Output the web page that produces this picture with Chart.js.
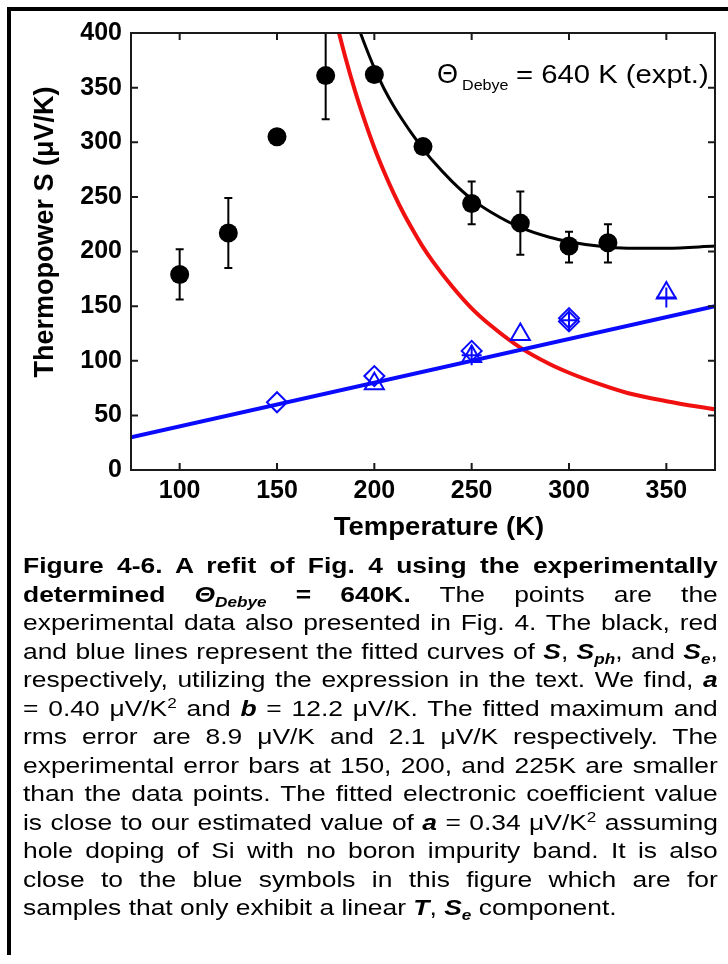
<!DOCTYPE html>
<html>
<head>
<meta charset="utf-8">
<script src="https://cdn.jsdelivr.net/npm/chart.js@4.4.1/dist/chart.umd.min.js"></script>
<style>
  html, body { margin: 0; padding: 0; background: #fff; }
  body { width: 728px; height: 964px; position: relative; overflow: hidden;
         font-family: "Liberation Sans", Arial, sans-serif; }
  #frame { position: absolute; left: 7px; top: 7px; width: 721px; height: 948px;
           border-top: 4px solid #000; border-left: 4px solid #000; box-sizing: border-box; }
  #plot { position: absolute; left: 0; top: 0; width: 728px; height: 556px; }
  #caption { position: absolute; left: 23px; top: 552px; width: 579px;
             transform: scaleX(1.2); transform-origin: 0 0;
             font-size: 22px; line-height: 28.5px; color: #000; }
  #caption div { text-align: justify; text-align-last: justify; }
  #caption div.last { text-align-last: left; }
  sub, sup { font-size: 65%; line-height: 0; }
</style>
</head>
<body>
<div id="frame"></div>
<div id="plot"><canvas id="chart"></canvas></div>
<div id="caption">
  <div><b>Figure 4-6. A refit of Fig. 4 using the experimentally</b></div>
  <div><b>determined <i>Θ<sub>Debye</sub></i> = 640K.</b> The points are the</div>
  <div>experimental data also presented in Fig. 4. The black, red</div>
  <div>and blue lines represent the fitted curves of <b><i>S</i></b>, <b><i>S<sub>ph</sub></i></b>, and <b><i>S<sub>e</sub></i></b>,</div>
  <div>respectively, utilizing the expression in the text. We find, <b><i>a</i></b></div>
  <div>= 0.40 μV/K<sup>2</sup> and <b><i>b</i></b> = 12.2 μV/K. The fitted maximum and</div>
  <div>rms error are 8.9 μV/K and 2.1 μV/K respectively. The</div>
  <div>experimental error bars at 150, 200, and 225K are smaller</div>
  <div>than the data points. The fitted electronic coefficient value</div>
  <div>is close to our estimated value of <b><i>a</i></b> = 0.34 μV/K<sup>2</sup> assuming</div>
  <div>hole doping of Si with no boron impurity band. It is also</div>
  <div>close to the blue symbols in this figure which are for</div>
  <div class="last">samples that only exhibit a linear <b><i>T</i></b>, <b><i>S<sub>e</sub></i></b> component.</div>
</div>
<script>
// measured thermopower (black circles) with error bars
const tempK = [100, 125, 150, 175, 200, 225, 250, 275, 300, 320];
const thermopower = [179, 217, 305, 361, 362, 296, 244, 226, 205, 208];
const errLow = [156, 185, null, 321, null, null, 225, 197, 190, 190];
const errHigh = [202, 249, null, 401, null, null, 264, 255, 218, 225];

// blue samples with linear S_e only
const diamondT = [150, 200, 250, 300, 300];
const diamondS = [62, 86, 109, 139, 136];
const triangleT = [200, 250, 275, 350];
const triangleS = [79, 104, 124, 162];
const crossT = [250, 300, 350];
const crossS = [105, 137, 158];

// fitted curves: total S (black), phonon drag S_ph (red), electronic S_e (blue)
const fitT = [185, 190, 195, 200, 205, 210, 215, 220, 225, 230, 240, 250, 260, 275, 290, 300, 315, 330, 350, 375];
const fitS = [440, 414, 390, 368, 349, 333, 319, 306, 294, 283, 264, 248, 236, 222, 213, 209, 205, 203, 203, 205];
const phT = [180, 185, 190, 195, 200, 205, 210, 215, 220, 225, 230, 240, 250, 260, 275, 290, 300, 315, 330, 350, 375];
const phS = [413, 378.5, 347.5, 320, 295, 273, 253, 235, 219, 204, 191, 168, 148, 132, 112, 97, 89, 79, 70.5, 63, 55.5];
const eT = [75, 375];
const eS = [30, 150];

const xTicks = [100, 150, 200, 250, 300, 350];
const yTicks = [0, 50, 100, 150, 200, 250, 300, 350, 400];

const BLUE = '#0a0aff';
const RED = '#f01010';
const FONT = '"Liberation Sans", Arial, sans-serif';

const pts = (xs, ys) => xs.map((v, i) => ({x: v, y: ys[i]}));

function stretchedText(ctx, text, x, y, font, sx, rot, align) {
  ctx.save();
  ctx.translate(x, y);
  if (rot) ctx.rotate(rot);
  ctx.scale(sx, 1);
  ctx.font = font;
  ctx.textAlign = align || 'left';
  ctx.textBaseline = 'alphabetic';
  ctx.fillStyle = '#000';
  ctx.fillText(text, 0, 0);
  ctx.restore();
}

const decor = {
  id: 'decor',
  afterDatasetsDraw(chart) {
    const {ctx, chartArea: a, scales: {x, y}} = chart;

    // error bars
    ctx.save();
    ctx.beginPath();
    ctx.rect(a.left, a.top, a.right - a.left, a.bottom - a.top);
    ctx.clip();
    ctx.strokeStyle = '#000';
    ctx.lineWidth = 2;
    tempK.forEach((t, i) => {
      if (errLow[i] == null) return;
      const px = x.getPixelForValue(t);
      const lo = y.getPixelForValue(errLow[i]);
      const hi = y.getPixelForValue(errHigh[i]);
      ctx.beginPath();
      ctx.moveTo(px, lo); ctx.lineTo(px, hi);
      ctx.moveTo(px - 4, lo); ctx.lineTo(px + 4, lo);
      ctx.moveTo(px - 4, hi); ctx.lineTo(px + 4, hi);
      ctx.stroke();
    });
    ctx.restore();

    // box with inward ticks on all four sides
    ctx.save();
    ctx.strokeStyle = '#1a1a1a';
    ctx.lineWidth = 2;
    ctx.strokeRect(a.left, a.top, a.right - a.left, a.bottom - a.top);
    ctx.beginPath();
    xTicks.forEach(v => {
      const p = x.getPixelForValue(v);
      ctx.moveTo(p, a.bottom); ctx.lineTo(p, a.bottom - 7);
      ctx.moveTo(p, a.top); ctx.lineTo(p, a.top + 7);
    });
    yTicks.forEach(v => {
      const p = y.getPixelForValue(v);
      ctx.moveTo(a.left, p); ctx.lineTo(a.left + 7, p);
      ctx.moveTo(a.right, p); ctx.lineTo(a.right - 7, p);
    });
    ctx.stroke();
    ctx.restore();
  },
  afterDraw(chart) {
    const ctx = chart.ctx;
    // axis titles
    stretchedText(ctx, 'Temperature (K)', 439, 535, 'bold 25px ' + FONT, 1.1, 0, 'center');
    stretchedText(ctx, 'Thermopower S (\u03bcV/K)', 53, 232, 'bold 27px ' + FONT, 1, -Math.PI / 2, 'center');
    // Debye temperature note
    stretchedText(ctx, '\u0398', 437, 83, '27px ' + FONT, 1, 0, 'left');
    stretchedText(ctx, 'Debye', 462, 90, '14px ' + FONT, 1.15, 0, 'left');
    stretchedText(ctx, '= 640 K (expt.)', 516, 83, '25px ' + FONT, 1.17, 0, 'left');
  }
};

new Chart(document.getElementById('chart'), {
  type: 'scatter',
  data: {
    datasets: [
      {
        label: 'S measured',
        data: pts(tempK, thermopower),
        pointStyle: 'circle',
        pointRadius: 9.5,
        backgroundColor: '#000',
        borderColor: '#000',
        borderWidth: 0
      },
      {
        label: 'diamonds',
        data: pts(diamondT, diamondS),
        pointStyle: 'rectRot',
        pointRadius: 10,
        backgroundColor: 'rgba(0,0,0,0)',
        borderColor: BLUE,
        borderWidth: 2
      },
      {
        label: 'triangles',
        data: pts(triangleT, triangleS),
        pointStyle: 'triangle',
        pointRadius: 11,
        backgroundColor: 'rgba(0,0,0,0)',
        borderColor: BLUE,
        borderWidth: 2
      },
      {
        label: 'crosses',
        data: pts(crossT, crossS),
        pointStyle: 'cross',
        pointRadius: 10,
        borderColor: BLUE,
        borderWidth: 2
      },
      {
        label: 'S fit',
        data: pts(fitT, fitS),
        showLine: true,
        cubicInterpolationMode: 'monotone',
        borderColor: '#000',
        borderWidth: 3,
        pointRadius: 0
      },
      {
        label: 'S_e',
        data: pts(eT, eS),
        showLine: true,
        borderColor: BLUE,
        borderWidth: 4,
        pointRadius: 0
      },
      {
        label: 'S_ph',
        data: pts(phT, phS),
        showLine: true,
        cubicInterpolationMode: 'monotone',
        borderColor: RED,
        borderWidth: 4,
        pointRadius: 0
      }
    ]
  },
  options: {
    responsive: true,
    maintainAspectRatio: false,
    animation: false,
    layout: { padding: { left: 0, top: 33, right: 7, bottom: 0 } },
    plugins: {
      legend: { display: false },
      tooltip: { enabled: false }
    },
    scales: {
      x: {
        type: 'linear',
        min: 75,
        max: 375,
        afterBuildTicks: s => { s.ticks = xTicks.map(v => ({value: v})); },
        afterFit: s => { s.height = 86; },
        grid: { display: false, drawTicks: false },
        border: { display: false },
        ticks: { padding: 6, color: '#000', font: { family: FONT, size: 25, weight: 'bold' } }
      },
      y: {
        type: 'linear',
        min: 0,
        max: 400,
        afterBuildTicks: s => { s.ticks = yTicks.map(v => ({value: v})); },
        afterFit: s => { s.width = 131; },
        grid: { display: false, drawTicks: false },
        border: { display: false },
        ticks: { padding: 9, color: '#000', font: { family: FONT, size: 25, weight: 'bold' } }
      }
    }
  },
  plugins: [decor]
});
</script>
</body>
</html>
